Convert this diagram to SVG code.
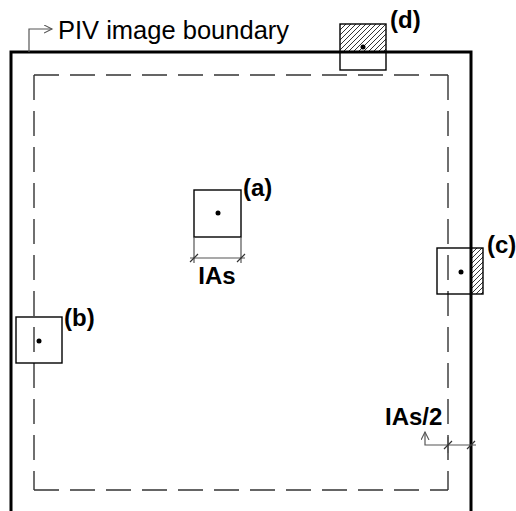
<svg xmlns="http://www.w3.org/2000/svg" width="516" height="511" viewBox="0 0 516 511">
<style>
.box{fill:none;stroke:#000;stroke-width:1.4}
.dot{fill:#000}
.dash{fill:none;stroke:#333;stroke-width:1.4;stroke-dasharray:25 11}
.dim{fill:none;stroke:#555;stroke-width:1.2}
.tick{fill:none;stroke:#333;stroke-width:1.2}
.lbl{font-family:"Liberation Sans",Arial,sans-serif;font-weight:bold;font-size:24px;fill:#000}
.txt{font-family:"Liberation Sans",Arial,sans-serif;font-size:25.5px;fill:#000}
</style>
<defs>
<pattern id="hatch" patternUnits="userSpaceOnUse" width="5" height="5">
<path d="M0,5 L5,0 M-1,1 L1,-1 M4,6 L6,4" stroke="#000" stroke-width="0.8"/>
</pattern>
<marker id="arr" markerWidth="10" markerHeight="10" refX="8" refY="4" orient="auto" markerUnits="userSpaceOnUse">
<path d="M0,0 L8,4 L0,8" fill="none" stroke="#555" stroke-width="1.1"/>
</marker>
</defs>
<rect width="516" height="511" fill="#fff"/>
<g id="region">
<path class="dash" d="M34,75 H448"/>
<path class="dash" d="M448,75 V490"/>
<path class="dash" d="M34,75 V490"/>
<path class="dash" d="M34,490 H448"/>
</g>
<g id="boundary">
<path d="M11,511 V52 H471 V511" fill="none" stroke="#000" stroke-width="3"/>
<text class="txt" x="58" y="39">PIV image boundary</text>
</g>
<g id="node-a">
<rect class="box" x="194" y="190" width="47" height="47"/>
<circle class="dot" cx="218" cy="213" r="2.5"/>
<text class="lbl" x="243" y="196">(a)</text>
</g>
<g id="node-b">
<rect class="box" x="16" y="317" width="46" height="46"/>
<circle class="dot" cx="39" cy="341" r="2.5"/>
<text class="lbl" x="64" y="326">(b)</text>
</g>
<g id="node-c">
<rect x="471" y="248" width="12" height="46" fill="url(#hatch)"/>
<rect class="box" x="437" y="248" width="46" height="46"/>
<circle class="dot" cx="461" cy="272" r="2.5"/>
<text class="lbl" x="487" y="253">(c)</text>
</g>
<g id="node-d">
<rect x="340" y="24" width="46" height="28" fill="url(#hatch)"/>
<rect class="box" x="340" y="24" width="46" height="46"/>
<circle class="dot" cx="363" cy="47" r="2.5"/>
<text class="lbl" x="390" y="28">(d)</text>
</g>
<g id="connectors">
<path class="dim" d="M29,52 V29 H52" marker-end="url(#arr)"/>
<path class="dim" d="M194,237 V263 M241,237 V263 M190,258 H245"/>
<path class="tick" d="M190,262 L198,254 M237,262 L245,254"/>
<path class="dim" d="M476,445 H425 V432" marker-end="url(#arr)"/>
<path class="dim" d="M448,437 V453"/>
<path class="tick" d="M444,449 L452,441 M467,449 L475,441"/>
</g>
<text class="lbl" x="217" y="284" text-anchor="middle">IAs</text>
<text class="lbl" x="385" y="425">IAs/2</text>
</svg>
